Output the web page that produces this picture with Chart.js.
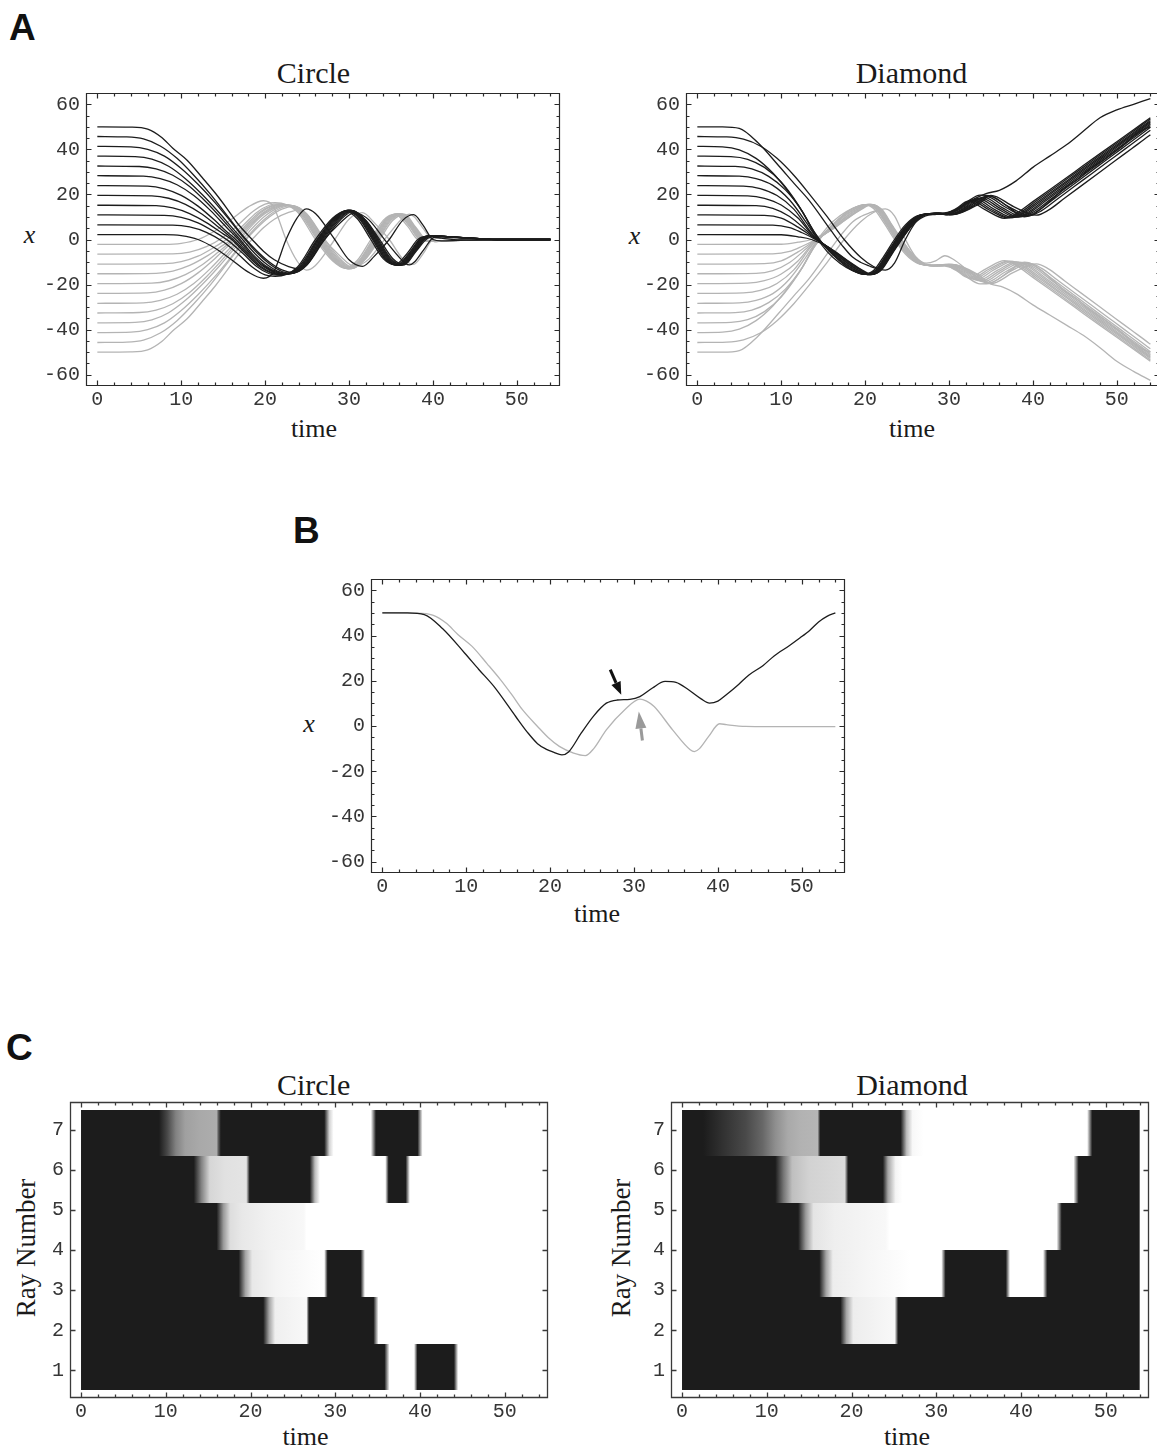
<!DOCTYPE html>
<html><head><meta charset="utf-8"><title>Circle vs Diamond ray trajectories</title>
<script src="https://cdn.jsdelivr.net/npm/chart.js@4.4.1/dist/chart.umd.min.js"></script>
<style>
html,body{margin:0;padding:0;background:#fff;width:1157px;height:1452px;overflow:hidden}
body{position:relative}
canvas{position:absolute}
.t{position:absolute;font-family:"Liberation Serif","Times New Roman",serif;color:#1a1a1a;line-height:1;white-space:nowrap}
.c{transform:translateX(-50%)}
.i{font-style:italic}
.p{position:absolute;font-family:"Liberation Sans",Arial,sans-serif;font-weight:bold;line-height:1;color:#111;font-size:37px}
</style></head><body>
<div class="p" style="left:9px;top:9px">A</div>
<div class="p" style="left:293px;top:512px">B</div>
<div class="p" style="left:6px;top:1029px">C</div>
<div class="t c" style="left:313.5px;top:58px;font-size:30px">Circle</div>
<div class="t c" style="left:911.5px;top:58px;font-size:30px">Diamond</div>
<div class="t c" style="left:314px;top:416px;font-size:26px">time</div>
<div class="t c" style="left:912px;top:416px;font-size:26px">time</div>
<div class="t c i" style="left:29.6px;top:222px;font-size:26px">x</div>
<div class="t c i" style="left:634.5px;top:223px;font-size:26px">x</div>
<div class="t c i" style="left:309px;top:711px;font-size:26px">x</div>
<div class="t c" style="left:597px;top:901px;font-size:26px">time</div>
<div class="t c" style="left:313.6px;top:1070px;font-size:30px">Circle</div>
<div class="t c" style="left:912px;top:1070px;font-size:30px">Diamond</div>
<div class="t c" style="left:305.5px;top:1424px;font-size:26px">time</div>
<div class="t c" style="left:907px;top:1424px;font-size:26px">time</div>
<div class="t" style="left:26px;top:1248px;font-size:27px;transform:translate(-50%,-50%) rotate(-90deg)">Ray Number</div>
<div class="t" style="left:621px;top:1248px;font-size:27px;transform:translate(-50%,-50%) rotate(-90deg)">Ray Number</div>
<script>
// ---------- tick values ----------
const xMajorTicks = [0,10,20,30,40,50];
const xMinorTicks = [2,4,6,8,12,14,16,18,22,24,26,28,32,34,36,38,42,44,46,48,52,54];
const yMajorTicks = [-60,-40,-20,0,20,40,60];
const yMinorTicks = [-55,-50,-45,-35,-30,-25,-15,-10,-5,5,10,15,25,30,35,45,50,55];
const rayTicks = [1,2,3,4,5,6,7];

// ---------- Panel A, Circle: black rays (start > 0) ----------
const cb1 = [[0,50],[4,49.9],[6,49],[7.6,45.5],[9,40.5],[10.7,35.2],[12.5,27.5],[14.1,20.4],[15.5,13.5],[16.7,7.2],[18.5,-0.2],[19.8,-5.2],[21.1,-9],[22.8,-12],[24.2,-13.1],[25.2,-10],[26.7,-1.7],[28.9,7.2],[30.7,11.9],[31.5,11],[32.4,8.6],[34.6,-1.7],[36.7,-10.5],[37.2,-11.3],[37.8,-10],[38.9,-4.6],[40.2,1],[41,0.6],[43.3,-0.2],[46,-0.3],[54,-0.3]];
const cb2 = [[0,45.7],[3.5,45.5],[5.5,44.6],[7.5,41.5],[9.5,36],[11.5,28.5],[13.5,20],[15.5,10.5],[17.5,1],[19,-5],[20.5,-10],[22,-13.5],[23.4,-14.7],[25,-11.2],[27,-0.5],[29,8.8],[30.5,12.5],[32,8.6],[33.7,-0.3],[35.2,-8.4],[36.6,-11.2],[38,-5.2],[39.3,0.3],[40.3,1.5],[42,1.2],[44,0.7],[46,0.3],[48,0],[54,0]];
const cb3 = [[0,41.3],[4,41.1],[6,40],[8,37],[10,31.5],[12,24.5],[14,16.5],[16,7.5],[17.4,1],[19,-5.8],[20.5,-10.8],[22,-14.2],[23.2,-15],[24.9,-11.6],[26.9,-0.2],[28.9,9.2],[30.4,12.8],[31.9,8.8],[33.5,0],[35,-8.5],[36.4,-11.3],[37.9,-5.3],[39.1,0.3],[40.1,1.6],[42,1.2],[44,0.7],[46,0.3],[48,0],[54,0]];
const cb4 = [[0,37],[4.5,36.8],[6.5,35.7],[8.5,32.5],[10.5,27],[12.5,20],[14.5,12],[16,5.5],[17.2,0.5],[18.8,-6.3],[20.3,-11.3],[21.8,-14.5],[23,-15.1],[24.7,-11.8],[26.8,0],[28.8,9.4],[30.3,12.9],[31.8,9],[33.4,0],[34.9,-8.6],[36.3,-11.4],[37.8,-5.5],[39,0.2],[40,1.7],[42,1.2],[44,0.7],[46,0.3],[48,0],[54,0]];
const cb5 = [[0,32.6],[5,32.4],[7,31.3],[9,28.5],[11,23.5],[13,16.5],[15,8.5],[16.9,0.5],[18.5,-6.5],[20,-11.5],[21.6,-14.6],[22.8,-15.2],[24.6,-12],[26.7,0],[28.7,9.6],[30.2,12.9],[31.7,9.2],[33.3,0],[34.8,-8.7],[36.2,-11.4],[37.7,-5.6],[38.9,0.2],[39.9,1.7],[42,1.2],[44,0.7],[46,0.3],[48,0],[54,0]];
const cb6 = [[0,28.3],[5.5,28.1],[7.5,27],[9.5,24.3],[11.5,19.5],[13.5,12.8],[15.5,5],[16.7,0.5],[18.3,-6.5],[19.9,-11.8],[21.4,-14.7],[22.6,-15.3],[24.5,-12],[26.6,0],[28.6,9.7],[30.1,13],[31.6,9.3],[33.2,0],[34.7,-8.8],[36.1,-11.5],[37.6,-5.7],[38.8,0.1],[39.8,1.7],[42,1.2],[44,0.7],[46,0.3],[48,0],[54,0]];
const cb7 = [[0,23.9],[6,23.7],[8,22.5],[10,19.6],[12,14.8],[14,8.5],[15.5,3.2],[16.5,0],[18,-6],[19.7,-11.8],[21.2,-14.8],[22.4,-15.4],[24.4,-12],[26.5,0],[28.5,9.7],[30,13],[31.5,9.4],[33.1,0],[34.6,-8.9],[36,-11.5],[37.5,-5.8],[38.7,0.1],[39.7,1.7],[42,1.2],[44,0.7],[46,0.3],[48,0],[54,0]];
const cb8 = [[0,19.6],[6.5,19.4],[8.5,18.3],[10.5,15.6],[12.5,11.2],[14.5,5.3],[16.2,0],[17.8,-6],[19.5,-12],[21,-15],[22.2,-15.5],[24.3,-12],[26.4,0],[28.4,9.7],[29.9,13],[31.4,9.4],[33,0],[34.5,-8.9],[35.9,-11.5],[37.4,-5.8],[38.6,0.1],[39.6,1.7],[42,1.2],[44,0.7],[46,0.3],[48,0],[54,0]];
const cb9 = [[0,15.2],[7,15],[9,14],[11,11.5],[13,7.5],[15,2.5],[16,0],[17.6,-6],[19.3,-12],[20.8,-15],[22,-15.6],[24.2,-12],[26.3,0],[28.3,9.6],[29.8,12.9],[31.3,9.4],[32.9,0],[34.4,-8.9],[35.8,-11.4],[37.3,-5.8],[38.5,0.1],[39.5,1.6],[42,1.2],[44,0.7],[46,0.3],[48,0],[54,0]];
const cb10 = [[0,10.9],[8,10.7],[10,9.8],[12,7.4],[14,3.3],[15.6,-0.5],[17.3,-6],[19,-12],[20.5,-15.2],[21.7,-15.8],[24,-12.2],[26.2,0],[28.2,9.5],[29.7,12.8],[31.2,9.3],[32.8,0],[34.3,-8.8],[35.7,-11.3],[37.2,-5.8],[38.4,0],[39.4,1.5],[42,1.1],[44,0.6],[46,0.2],[48,0],[54,0]];
const cb11 = [[0,6.5],[9,6.4],[11,5.6],[13,3.2],[15,-1],[16.8,-6.5],[18.5,-12.3],[20,-15.7],[21.2,-16.3],[23.8,-12.4],[26,0],[28,9.3],[29.5,12.6],[31,9.2],[32.6,0],[34.1,-8.6],[35.5,-11.2],[37,-5.8],[38.2,0],[39.2,1.4],[42,1.1],[44,0.6],[46,0.2],[48,0],[54,0]];
const cb12 = [[0,2.2],[8,2.15],[10,1.7],[12,0],[14,-3.8],[16,-9],[18,-14.5],[19.8,-17.2],[21,-14.5],[22.5,0],[23.8,9.5],[24.9,13.6],[26,11.5],[28.3,0],[30,-9],[31.6,-11.9],[33,-7.5],[34.8,0],[36.4,8.5],[37.7,11],[38.8,6.5],[40,0],[41,-0.6],[43,-0.4],[46,-0.1],[48,0],[54,0]];

// ---------- Panel A, Circle: gray rays (start < 0) ----------
const cg1 = [[0,-50],[4,-49.9],[6,-49],[7.6,-45.5],[9,-40.5],[10.7,-35.2],[12.5,-27.5],[14.1,-20.4],[15.5,-13.5],[16.7,-7.2],[18.5,0.2],[19.8,5.2],[21.1,9],[22.8,12],[24.2,13.1],[25.2,10],[26.7,1.7],[28.9,-7.2],[30.7,-11.9],[31.5,-11],[32.4,-8.6],[34.6,1.7],[36.7,10.5],[37.2,11.3],[37.8,10],[38.9,4.6],[40.2,-1],[41,-0.6],[43.3,0.2],[46,0.3],[54,0.3]];
const cg2 = [[0,-45.7],[3.5,-45.5],[5.5,-44.6],[7.5,-41.5],[9.5,-36],[11.5,-28.5],[13.5,-20],[15.5,-10.5],[17.5,-1],[19,5],[20.5,10],[22,13.5],[23.4,14.7],[25,11.2],[27,0.5],[29,-8.8],[30.5,-12.5],[32,-8.6],[33.7,0.3],[35.2,8.4],[36.6,11.2],[38,5.2],[39.3,-0.3],[40.3,-0.6],[42,-0.5],[44,-0.3],[46,-0.1],[48,0],[54,0]];
const cg3 = [[0,-41.3],[4,-41.1],[6,-40],[8,-37],[10,-31.5],[12,-24.5],[14,-16.5],[16,-7.5],[17.4,-1],[19,5.8],[20.5,10.8],[22,14.2],[23.2,15],[24.9,11.6],[26.9,0.2],[28.9,-9.2],[30.4,-12.8],[31.9,-8.8],[33.5,0],[35,8.5],[36.4,11.3],[37.9,5.3],[39.1,-0.3],[40.1,-0.7],[42,-0.5],[44,-0.3],[46,-0.1],[48,0],[54,0]];
const cg4 = [[0,-37],[4.5,-36.8],[6.5,-35.7],[8.5,-32.5],[10.5,-27],[12.5,-20],[14.5,-12],[16,-5.5],[17.2,-0.5],[18.8,6.3],[20.3,11.3],[21.8,14.5],[23,15.1],[24.7,11.8],[26.8,0],[28.8,-9.4],[30.3,-12.9],[31.8,-9],[33.4,0],[34.9,8.6],[36.3,11.4],[37.8,5.5],[39,-0.2],[40,-0.7],[42,-0.5],[44,-0.3],[46,-0.1],[48,0],[54,0]];
const cg5 = [[0,-32.6],[5,-32.4],[7,-31.3],[9,-28.5],[11,-23.5],[13,-16.5],[15,-8.5],[16.9,-0.5],[18.5,6.5],[20,11.5],[21.6,14.6],[22.8,15.2],[24.6,12],[26.7,0],[28.7,-9.6],[30.2,-12.9],[31.7,-9.2],[33.3,0],[34.8,8.7],[36.2,11.4],[37.7,5.6],[38.9,-0.2],[39.9,-0.7],[42,-0.5],[44,-0.3],[46,-0.1],[48,0],[54,0]];
const cg6 = [[0,-28.3],[5.5,-28.1],[7.5,-27],[9.5,-24.3],[11.5,-19.5],[13.5,-12.8],[15.5,-5],[16.7,-0.5],[18.3,6.5],[19.9,11.8],[21.4,14.7],[22.6,15.3],[24.5,12],[26.6,0],[28.6,-9.7],[30.1,-13],[31.6,-9.3],[33.2,0],[34.7,8.8],[36.1,11.5],[37.6,5.7],[38.8,-0.1],[39.8,-0.7],[42,-0.5],[44,-0.3],[46,-0.1],[48,0],[54,0]];
const cg7 = [[0,-23.9],[6,-23.7],[8,-22.5],[10,-19.6],[12,-14.8],[14,-8.5],[15.5,-3.2],[16.5,0],[18,6],[19.7,11.8],[21.2,14.8],[22.4,15.4],[24.4,12],[26.5,0],[28.5,-9.7],[30,-13],[31.5,-9.4],[33.1,0],[34.6,8.9],[36,11.5],[37.5,5.8],[38.7,-0.1],[39.7,-0.7],[42,-0.5],[44,-0.3],[46,-0.1],[48,0],[54,0]];
const cg8 = [[0,-19.6],[6.5,-19.4],[8.5,-18.3],[10.5,-15.6],[12.5,-11.2],[14.5,-5.3],[16.2,0],[17.8,6],[19.5,12],[21,15],[22.2,15.5],[24.3,12],[26.4,0],[28.4,-9.7],[29.9,-13],[31.4,-9.4],[33,0],[34.5,8.9],[35.9,11.5],[37.4,5.8],[38.6,-0.1],[39.6,-0.7],[42,-0.5],[44,-0.3],[46,-0.1],[48,0],[54,0]];
const cg9 = [[0,-15.2],[7,-15],[9,-14],[11,-11.5],[13,-7.5],[15,-2.5],[16,0],[17.6,6],[19.3,12],[20.8,15],[22,15.6],[24.2,12],[26.3,0],[28.3,-9.6],[29.8,-12.9],[31.3,-9.4],[32.9,0],[34.4,8.9],[35.8,11.4],[37.3,5.8],[38.5,-0.1],[39.5,-0.6],[42,-0.5],[44,-0.3],[46,-0.1],[48,0],[54,0]];
const cg10 = [[0,-10.9],[8,-10.7],[10,-9.8],[12,-7.4],[14,-3.3],[15.6,0.5],[17.3,6],[19,12],[20.5,15.2],[21.7,15.8],[24,12.2],[26.2,0],[28.2,-9.5],[29.7,-12.8],[31.2,-9.3],[32.8,0],[34.3,8.8],[35.7,11.3],[37.2,5.8],[38.4,0],[39.4,-0.6],[42,-0.5],[44,-0.3],[46,-0.1],[48,0],[54,0]];
const cg11 = [[0,-6.5],[9,-6.4],[11,-5.6],[13,-3.2],[15,1],[16.8,6.5],[18.5,12.3],[20,15.7],[21.2,16.3],[23.8,12.4],[26,0],[28,-9.3],[29.5,-12.6],[31,-9.2],[32.6,0],[34.1,8.6],[35.5,11.2],[37,5.8],[38.2,0],[39.2,-0.6],[42,-0.5],[44,-0.3],[46,-0.1],[48,0],[54,0]];
const cg12 = [[0,-2.2],[8,-2.15],[10,-1.7],[12,0],[14,3.8],[16,9],[18,14.5],[19.8,17.2],[21,14.5],[22.5,0],[23.8,-9.5],[24.9,-13.6],[26,-11.5],[28.3,0],[30,9],[31.6,11.9],[33,7.5],[34.8,0],[36.4,-8.5],[37.7,-11],[38.8,-6.5],[40,0],[41,0.6],[43,0.4],[46,0.1],[48,0],[54,0]];

// ---------- Panel A, Diamond: black rays ----------
const db1 = [[0,50],[3,50],[5,49.3],[7.2,43],[9.8,32.3],[11.5,25],[13.3,17.5],[15.9,4.2],[17.3,-2.8],[18.5,-7.8],[19.5,-10.2],[20.4,-11.6],[21.4,-12.8],[22.2,-11.5],[23.7,-3.2],[25.2,4.5],[26.7,10.1],[28,11.5],[29.5,11.8],[30.7,13],[32.2,16.8],[33.7,19.7],[35,19.3],[36.5,16],[38,12],[39,10.1],[40,11],[41,13.8],[42.5,18.5],[43.7,22.6],[45.4,26.8],[46.7,31],[48.5,35.5],[49.8,39],[51,42.5],[52,46],[53,48.5],[54,50]];
const db2 = [[0,45.7],[3.5,45.5],[5.5,44.5],[7.5,41.5],[9.5,36],[11.5,28.5],[13.5,19.5],[15.5,10],[17.5,0],[19.5,-8],[21,-12],[22.4,-13.6],[23.5,-10.5],[24.8,0],[26,7.5],[27.2,10.5],[28.5,11.2],[30,12],[31.5,14.5],[33,18],[34.5,20.5],[36,21.8],[38,26],[40,32],[42,37],[44,42],[46,48],[48,54],[50,57.5],[52,60],[54,62.5]];
const db3 = [[0,41.3],[3,41.1],[5,39.8],[7,36],[9,29.5],[11,20.5],[12.5,12.5],[14.2,1],[15.5,-5.5],[17,-10.5],[18.5,-13.8],[19.8,-15.4],[21,-13.8],[22.3,-7],[23.5,0],[24.8,6.5],[26.2,10.5],[27.8,11.4],[29.3,11.3],[30.8,13.6],[32.3,17],[34.45,12.9],[36.6,9.4],[38,11.5],[40,16.8],[42,22.1],[44,27.4],[46,32.8],[48,38.1],[50,43.4],[52,48.7],[54,54]];
const db4 = [[0,37],[4,36.8],[6,35.6],[8,32],[10,25.5],[12,15.5],[14,3],[15.3,-3.5],[16.8,-9],[18.4,-13.5],[20,-15.5],[21.2,-13.8],[22.5,-6.8],[23.7,0.2],[25,6.7],[26.4,10.6],[28,11.4],[29.5,11.2],[31.1,13.8],[32.6,17.3],[34.8,13.1],[37,9.6],[38.4,11.7],[40.4,17.1],[42.4,22.4],[44.4,27.8],[46.4,33.1],[48.4,38.5],[50.4,43.8],[52.4,49.2],[54,53.5]];
const db5 = [[0,32.6],[4.5,32.4],[6.5,31.3],[8.5,28],[10.5,22],[12.5,12.5],[13.9,3.5],[15.2,-3],[16.8,-8.8],[18.4,-13.4],[20.1,-15.5],[21.3,-13.7],[22.6,-6.6],[23.8,0.3],[25.1,6.8],[26.5,10.7],[28.1,11.5],[29.6,11.1],[31.4,14],[32.9,17.6],[35.1,13.2],[37.3,9.6],[38.7,11.7],[40.7,17.1],[42.7,22.4],[44.7,27.8],[46.7,33.2],[48.7,38.6],[50.7,43.9],[52.7,49.3],[54,52.8]];
const db6 = [[0,28.3],[5,28.1],[7,27],[9,24],[11,17.5],[13,7.5],[13.8,3],[15.2,-3],[16.9,-8.8],[18.6,-13.3],[20.2,-15.5],[21.4,-13.6],[22.7,-6.5],[23.9,0.4],[25.2,6.9],[26.6,10.8],[28.2,11.5],[29.8,11.1],[31.7,14.3],[33.2,17.9],[35.4,13.4],[37.6,9.7],[39,11.8],[41,17.2],[43,22.6],[45,28],[47,33.4],[49,38.8],[51,44.2],[53,49.6],[54,52.3]];
const db7 = [[0,23.9],[5.5,23.7],[7.5,22.6],[9.5,19.5],[11.5,13.5],[13.7,2.5],[15.3,-3],[17,-8.7],[18.7,-13.2],[20.3,-15.6],[21.5,-13.6],[22.8,-6.4],[24,0.4],[25.3,6.9],[26.7,10.8],[28.3,11.6],[29.9,11],[32,14.5],[33.5,18.2],[35.8,13.6],[38,9.9],[39.4,12],[41.4,17.5],[43.4,22.9],[45.4,28.4],[47.4,33.8],[49.4,39.3],[51.4,44.7],[53.4,50.2],[54,51.8]];
const db8 = [[0,19.6],[6,19.4],[8,18.3],[10,15.3],[12,9.5],[13.6,2.5],[15.4,-3.1],[17.2,-8.7],[18.9,-13.2],[20.4,-15.6],[21.6,-13.5],[22.9,-6.3],[24.1,0.5],[25.4,7],[26.8,10.9],[28.4,11.6],[30,11],[32.3,14.8],[33.8,18.5],[36.1,13.8],[38.3,10],[39.7,12.1],[41.7,17.6],[43.7,23],[45.7,28.5],[47.7,34],[49.7,39.4],[51.7,44.9],[53.7,50.4],[54,51.2]];
const db9 = [[0,15.2],[7,15],[9,13.8],[11,10.2],[13,4],[13.6,2],[15.5,-3.2],[17.3,-8.7],[19,-13.1],[20.5,-15.6],[21.7,-13.5],[23,-6.2],[24.2,0.5],[25.5,7],[26.9,10.9],[28.5,11.6],[30.1,11],[32.6,15],[34.1,18.8],[36.4,14],[38.7,10.2],[40.1,12.3],[42.1,17.8],[44.1,23.3],[46.1,28.8],[48.1,34.3],[50.1,39.9],[52.1,45.4],[54,50.6]];
const db10 = [[0,10.9],[8,10.7],[10,9.5],[12,5.5],[13.6,1.5],[15.6,-3.4],[17.5,-8.7],[19.2,-13.1],[20.6,-15.6],[21.8,-13.4],[23.1,-6.1],[24.3,0.6],[25.6,7.1],[27,11],[28.6,11.7],[30.2,11],[32.9,15.2],[34.4,19.1],[36.8,14.2],[39.1,10.4],[40.5,12.5],[42.5,18],[44.5,23.5],[46.5,29.1],[48.5,34.6],[50.5,40.1],[52.5,45.6],[54,49.8]];
const db11 = [[0,6.5],[9,6.4],[11,5.3],[12.5,3],[13.6,1],[15.7,-3.6],[17.6,-8.7],[19.3,-13],[20.7,-15.6],[21.9,-13.4],[23.2,-6],[24.4,0.6],[25.7,7.1],[27.1,11],[28.7,11.7],[30.3,11],[33.2,15.4],[34.7,19.4],[37.2,14.4],[39.6,10.6],[41,12.7],[43,18.2],[45,23.7],[47,29.2],[49,34.7],[51,40.2],[53,45.7],[54,48.5]];
const db12 = [[0,2.2],[10,2.1],[12,1.2],[13.6,0],[15.8,-3.8],[17.7,-8.8],[19.4,-13],[20.8,-15.5],[22,-13.3],[23.3,-5.9],[24.5,0.7],[25.8,7.2],[27.2,11.1],[28.8,11.8],[30.4,11],[33.5,15.6],[35,19.6],[37.7,14.6],[40.4,10.8],[41.8,12.9],[43.8,18.4],[45.8,23.9],[47.8,29.4],[49.8,34.9],[51.8,40.4],[53.8,45.9],[54,46.5]];

// ---------- Panel A, Diamond: gray rays ----------
const dg1 = [[0,-50],[3,-50],[5,-49.3],[7.2,-43],[9.8,-32.3],[11.5,-25],[13.3,-17.5],[15.9,-4.2],[17.3,2.8],[18.5,7.8],[19.5,10.2],[20.4,11.6],[21.4,12.8],[22.2,11.5],[23.7,3.2],[25.2,-4.5],[26.7,-10.1],[28,-11.5],[29.5,-11.8],[30.7,-13],[32.2,-16.8],[33.7,-19.7],[35,-19.3],[36.5,-16],[38,-12],[39,-10.1],[40,-11],[41,-13.8],[42.5,-18.5],[43.7,-22.6],[45.4,-26.8],[46.7,-31],[48.5,-35.5],[49.8,-39],[51,-42.5],[52,-46],[53,-48.5],[54,-50]];
const dg2 = [[0,-45.7],[3.5,-45.5],[5.5,-44.5],[7.5,-41.5],[9.5,-36],[11.5,-28.5],[13.5,-19.5],[15.5,-10],[17.5,0],[19.5,8],[21,12],[22.4,13.6],[23.5,10.5],[24.8,0],[26,-7.5],[27.3,-10.5],[28.4,-9.5],[29.5,-7.2],[30.6,-9],[32,-13],[33.5,-17],[35,-19.8],[36.5,-21.2],[38,-24],[40,-29],[42,-33.5],[44,-38],[46,-42.5],[48,-48],[50,-54],[52,-58.5],[54,-62.5]];
const dg3 = [[0,-41.3],[3,-41.1],[5,-39.8],[7,-36],[9,-29.5],[11,-20.5],[12.5,-12.5],[14.2,-1],[15.5,5.5],[17,10.5],[18.5,13.8],[19.8,15.4],[21,13.8],[22.3,7],[23.5,0],[24.8,-6.5],[26.2,-10.5],[27.8,-11.4],[29.3,-11.3],[30.8,-13.6],[32.3,-17],[34.45,-12.9],[36.6,-9.4],[38,-11.5],[40,-16.8],[42,-22.1],[44,-27.4],[46,-32.8],[48,-38.1],[50,-43.4],[52,-48.7],[54,-54]];
const dg4 = [[0,-37],[4,-36.8],[6,-35.6],[8,-32],[10,-25.5],[12,-15.5],[14,-3],[15.3,3.5],[16.8,9],[18.4,13.5],[20,15.5],[21.2,13.8],[22.5,6.8],[23.7,-0.2],[25,-6.7],[26.4,-10.6],[28,-11.4],[29.5,-11.2],[31.1,-13.8],[32.6,-17.3],[34.8,-13.1],[37,-9.6],[38.4,-11.7],[40.4,-17.1],[42.4,-22.4],[44.4,-27.8],[46.4,-33.1],[48.4,-38.5],[50.4,-43.8],[52.4,-49.2],[54,-53.5]];
const dg5 = [[0,-32.6],[4.5,-32.4],[6.5,-31.3],[8.5,-28],[10.5,-22],[12.5,-12.5],[13.9,-3.5],[15.2,3],[16.8,8.8],[18.4,13.4],[20.1,15.5],[21.3,13.7],[22.6,6.6],[23.8,-0.3],[25.1,-6.8],[26.5,-10.7],[28.1,-11.5],[29.6,-11.1],[31.4,-14],[32.9,-17.6],[35.1,-13.2],[37.3,-9.6],[38.7,-11.7],[40.7,-17.1],[42.7,-22.4],[44.7,-27.8],[46.7,-33.2],[48.7,-38.6],[50.7,-43.9],[52.7,-49.3],[54,-52.8]];
const dg6 = [[0,-28.3],[5,-28.1],[7,-27],[9,-24],[11,-17.5],[13,-7.5],[13.8,-3],[15.2,3],[16.9,8.8],[18.6,13.3],[20.2,15.5],[21.4,13.6],[22.7,6.5],[23.9,-0.4],[25.2,-6.9],[26.6,-10.8],[28.2,-11.5],[29.8,-11.1],[31.7,-14.3],[33.2,-17.9],[35.4,-13.4],[37.6,-9.7],[39,-11.8],[41,-17.2],[43,-22.6],[45,-28],[47,-33.4],[49,-38.8],[51,-44.2],[53,-49.6],[54,-52.3]];
const dg7 = [[0,-23.9],[5.5,-23.7],[7.5,-22.6],[9.5,-19.5],[11.5,-13.5],[13.7,-2.5],[15.3,3],[17,8.7],[18.7,13.2],[20.3,15.6],[21.5,13.6],[22.8,6.4],[24,-0.4],[25.3,-6.9],[26.7,-10.8],[28.3,-11.6],[29.9,-11],[32,-14.5],[33.5,-18.2],[35.8,-13.6],[38,-9.9],[39.4,-12],[41.4,-17.5],[43.4,-22.9],[45.4,-28.4],[47.4,-33.8],[49.4,-39.3],[51.4,-44.7],[53.4,-50.2],[54,-51.8]];
const dg8 = [[0,-19.6],[6,-19.4],[8,-18.3],[10,-15.3],[12,-9.5],[13.6,-2.5],[15.4,3.1],[17.2,8.7],[18.9,13.2],[20.4,15.6],[21.6,13.5],[22.9,6.3],[24.1,-0.5],[25.4,-7],[26.8,-10.9],[28.4,-11.6],[30,-11],[32.3,-14.8],[33.8,-18.5],[36.1,-13.8],[38.3,-10],[39.7,-12.1],[41.7,-17.6],[43.7,-23],[45.7,-28.5],[47.7,-34],[49.7,-39.4],[51.7,-44.9],[53.7,-50.4],[54,-51.2]];
const dg9 = [[0,-15.2],[7,-15],[9,-13.8],[11,-10.2],[13,-4],[13.6,-2],[15.5,3.2],[17.3,8.7],[19,13.1],[20.5,15.6],[21.7,13.5],[23,6.2],[24.2,-0.5],[25.5,-7],[26.9,-10.9],[28.5,-11.6],[30.1,-11],[32.6,-15],[34.1,-18.8],[36.4,-14],[38.7,-10.2],[40.1,-12.3],[42.1,-17.8],[44.1,-23.3],[46.1,-28.8],[48.1,-34.3],[50.1,-39.9],[52.1,-45.4],[54,-50.6]];
const dg10 = [[0,-10.9],[8,-10.7],[10,-9.5],[12,-5.5],[13.6,-1.5],[15.6,3.4],[17.5,8.7],[19.2,13.1],[20.6,15.6],[21.8,13.4],[23.1,6.1],[24.3,-0.6],[25.6,-7.1],[27,-11],[28.6,-11.7],[30.2,-11],[32.9,-15.2],[34.4,-19.1],[36.8,-14.2],[39.1,-10.4],[40.5,-12.5],[42.5,-18],[44.5,-23.5],[46.5,-29.1],[48.5,-34.6],[50.5,-40.1],[52.5,-45.6],[54,-49.8]];
const dg11 = [[0,-6.5],[9,-6.4],[11,-5.3],[12.5,-3],[13.6,-1],[15.7,3.6],[17.6,8.7],[19.3,13],[20.7,15.6],[21.9,13.4],[23.2,6],[24.4,-0.6],[25.7,-7.1],[27.1,-11],[28.7,-11.7],[30.3,-11],[33.2,-15.4],[34.7,-19.4],[37.2,-14.4],[39.6,-10.6],[41,-12.7],[43,-18.2],[45,-23.7],[47,-29.2],[49,-34.7],[51,-40.2],[53,-45.7],[54,-48.5]];
const dg12 = [[0,-2.2],[10,-2.1],[12,-1.2],[13.6,0],[15.8,3.8],[17.7,8.8],[19.4,13],[20.8,15.5],[22,13.3],[23.3,5.9],[24.5,-0.7],[25.8,-7.2],[27.2,-11.1],[28.8,-11.8],[30.4,-11],[33.5,-15.6],[35,-19.6],[37.7,-14.6],[40.4,-10.8],[41.8,-12.9],[43.8,-18.4],[45.8,-23.9],[47.8,-29.4],[49.8,-34.9],[51.8,-40.4],[53.8,-45.9],[54,-46.5]];

// ---------- Panel B: ray from x=50 (black = Diamond, gray = Circle) ----------
const bDiamondRay = db1;
const bCircleRay = cb1;
const bArrowBlack = [[27.17,24.9],[28.48,13.8]];   // tail, tip
const bArrowGray = [[31.0,-6.4],[30.57,6.4]];      // tail, tip

// ---------- Panel C: density bands (gray level 0 = black, 1 = white over time) ----------
const bandEdges = [0.5, 1.6667, 2.8333, 4, 5.1667, 6.3333, 7.5];
const cBand1 = [[0,0],[35.8,0],[36.4,1],[39.3,1],[39.7,0],[44,0],[44.5,1],[54,1]];
const cBand2 = [[0,0],[21.5,0],[22.2,0.6],[22.9,0.93],[26.6,0.97],[26.9,0],[34.5,0],[35.1,1],[54,1]];
const cBand3 = [[0,0],[18.6,0],[19.4,0.6],[20.2,0.9],[23,0.95],[26,0.98],[28.7,1],[29.1,0],[33,0],[33.5,1],[54,1]];
const cBand4 = [[0,0],[16,0],[16.8,0.55],[17.6,0.85],[19,0.9],[22,0.94],[26.3,0.97],[26.6,1],[54,1]];
const cBand5 = [[0,0],[13.3,0],[14.2,0.45],[15.2,0.82],[17,0.87],[19.5,0.88],[19.9,0],[27,0],[27.6,0.7],[28.2,1],[35.9,1],[36.3,0],[38.3,0],[38.8,1],[54,1]];
const cBand6 = [[0,0],[9.2,0],[10.2,0.2],[11.2,0.45],[12.3,0.58],[14,0.62],[16,0.64],[16.2,0.3],[16.5,0],[28.7,0],[29.3,0.8],[29.8,1],[34.2,1],[34.8,0],[39.7,0],[40.3,1],[54,1]];
const dBand1 = [[0,0],[54,0]];
const dBand2 = [[0,0],[18.7,0],[19.4,0.6],[20.2,0.92],[24,0.96],[25.1,0.97],[25.5,0],[54,0]];
const dBand3 = [[0,0],[16.2,0],[17,0.6],[17.8,0.92],[22,0.96],[27,1],[30.6,1],[31.1,0],[38.2,0],[38.7,1],[42.6,1],[43.1,0],[54,0]];
const dBand4 = [[0,0],[13.7,0],[14.6,0.55],[15.5,0.88],[18,0.93],[24,0.97],[24.5,1],[44.2,1],[44.8,0],[54,0]];
const dBand5 = [[0,0],[11,0],[12,0.4],[13,0.72],[15,0.8],[19.2,0.84],[19.6,0],[23.7,0],[24.3,0.6],[25.2,0.95],[26,1],[46.2,1],[46.8,0],[54,0]];
const dBand6 = [[0,0],[2.5,0],[5,0.1],[7.5,0.2],[9.5,0.33],[11,0.5],[12.5,0.62],[14,0.66],[16,0.68],[16.3,0],[25.8,0],[26.5,0.7],[27.2,0.97],[28.5,1],[47.8,1],[48.4,0],[54,0]];

// ---------- rendering ----------
const BLACK = '#1c1c1c', GRAY = '#b4b4b4';
const tickFont = {family:'"Liberation Mono","Courier New",monospace', size:20};
const toXY = a => a.map(p => ({x:p[0], y:p[1]}));
const lineDs = (a, color) => ({data:toXY(a), borderColor:color, borderWidth:1.3, pointRadius:0, pointHoverRadius:0,
  cubicInterpolationMode:'monotone', fill:false});
const shade = v => { const c = Math.round(28 + 227*v); return `rgb(${c},${c},${c})`; };

function framePlugin(f) {
  return {id:'frame', afterDraw(chart) {
    const {ctx, chartArea:a, scales:{x, y}} = chart;
    const L = Math.round(a.left)+0.5, R = Math.round(a.right)-0.5, T = Math.round(a.top)+0.5, B = Math.round(a.bottom)-0.5;
    ctx.save();
    ctx.strokeStyle = f.color; ctx.lineWidth = f.width;
    ctx.beginPath();
    ctx.rect(L, T, R-L, B-T);
    const xt = (vals, len) => vals.forEach(v => { const p = Math.round(x.getPixelForValue(v))+0.5;
      ctx.moveTo(p, B); ctx.lineTo(p, B-len); ctx.moveTo(p, T); ctx.lineTo(p, T+len); });
    const yt = (vals, len) => vals.forEach(v => { const p = Math.round(y.getPixelForValue(v))+0.5;
      ctx.moveTo(L, p); ctx.lineTo(L+len, p); ctx.moveTo(R, p); ctx.lineTo(R-len, p); });
    xt(f.xMajor, 5); xt(f.xMinor, 3); yt(f.yMajor, 5); yt(f.yMinor, 3);
    ctx.stroke();
    ctx.restore();
  }};
}

const heatPlugin = {id:'heat', beforeDatasetsDraw(chart) {
  const {ctx, scales:{x, y}} = chart;
  ctx.save();
  chart.data.datasets.forEach(ds => {
    if (!ds.stops) return;
    const st = ds.stops;
    const x0 = x.getPixelForValue(st[0][0]), x1 = x.getPixelForValue(st[st.length-1][0]);
    const yT = Math.round(y.getPixelForValue(ds.yHigh)), yB = Math.round(y.getPixelForValue(ds.yLow));
    const g = ctx.createLinearGradient(x0, 0, x1, 0);
    st.forEach(([t, v]) => g.addColorStop(Math.min(1, Math.max(0, (x.getPixelForValue(t)-x0)/(x1-x0))), shade(v)));
    ctx.fillStyle = g;
    ctx.fillRect(x0, yT, x1-x0, yB-yT);
  });
  ctx.restore();
}};

function arrowPlugin(arrows) {
  return {id:'arrows', afterDatasetsDraw(chart) {
    const {ctx, scales:{x, y}} = chart;
    ctx.save();
    arrows.forEach(ar => {
      const x1 = x.getPixelForValue(ar.pts[0][0]), y1 = y.getPixelForValue(ar.pts[0][1]);
      const x2 = x.getPixelForValue(ar.pts[1][0]), y2 = y.getPixelForValue(ar.pts[1][1]);
      const ang = Math.atan2(y2-y1, x2-x1);
      const bx = x2 - ar.head*Math.cos(ang), by = y2 - ar.head*Math.sin(ang);
      ctx.strokeStyle = ar.color; ctx.fillStyle = ar.color; ctx.lineWidth = ar.shaft;
      ctx.beginPath(); ctx.moveTo(x1, y1); ctx.lineTo(bx, by); ctx.stroke();
      const nx = -Math.sin(ang)*ar.w/2, ny = Math.cos(ang)*ar.w/2;
      ctx.beginPath(); ctx.moveTo(x2, y2); ctx.lineTo(bx+nx, by+ny); ctx.lineTo(bx-nx, by-ny); ctx.closePath(); ctx.fill();
    });
    ctx.restore();
  }};
}

function makeChart(rect, area, cfg) {
  const c = document.createElement('canvas');
  c.width = rect.w; c.height = rect.h;
  Object.assign(c.style, {left:rect.x+'px', top:rect.y+'px', width:rect.w+'px', height:rect.h+'px'});
  document.body.appendChild(c);
  const yW = area.left - rect.x, xH = rect.y + rect.h - area.bottom;
  const tickCommon = {font:tickFont, color:'#363636', autoSkip:false, maxRotation:0, minRotation:0, callback:v => String(v)};
  return new Chart(c, {
    type:'line',
    data:{datasets:cfg.datasets},
    plugins:cfg.plugins,
    options:{
      responsive:false, animation:false, devicePixelRatio:1, events:[],
      layout:{padding:{left:0, top:area.top-rect.y, right:rect.x+rect.w-area.right, bottom:0}},
      plugins:{legend:{display:false}, tooltip:{enabled:false}, title:{display:false}},
      scales:{
        x:{type:'linear', min:cfg.xMin, max:cfg.xMax, grid:{display:false, drawTicks:false}, border:{display:false},
           ticks:Object.assign({padding:cfg.xPad}, tickCommon),
           afterBuildTicks:ax => { ax.ticks = cfg.xTicks.map(v => ({value:v})); },
           afterFit:ax => { ax.height = xH; ax.paddingLeft = 0; ax.paddingRight = 0; }},
        y:{type:'linear', min:cfg.yMin, max:cfg.yMax, grid:{display:false, drawTicks:false}, border:{display:false},
           ticks:Object.assign({padding:6}, tickCommon),
           afterBuildTicks:ax => { ax.ticks = cfg.yTicks.map(v => ({value:v})); },
           afterFit:ax => { ax.width = yW; ax.paddingTop = 0; ax.paddingBottom = 0; }}
      }
    }
  });
}

const frameA = {xMajor:xMajorTicks, xMinor:xMinorTicks, yMajor:yMajorTicks, yMinor:yMinorTicks, color:'#2a2a2a', width:1.2};
const frameC = {xMajor:xMajorTicks, xMinor:xMinorTicks, yMajor:rayTicks, yMinor:[], color:'#3a3a3a', width:1.3};

const circleBlack = [cb1,cb2,cb3,cb4,cb5,cb6,cb7,cb8,cb9,cb10,cb11,cb12];
const circleGray = [cg1,cg2,cg3,cg4,cg5,cg6,cg7,cg8,cg9,cg10,cg11,cg12];
const diamondBlack = [db1,db2,db3,db4,db5,db6,db7,db8,db9,db10,db11,db12];
const diamondGray = [dg1,dg2,dg3,dg4,dg5,dg6,dg7,dg8,dg9,dg10,dg11,dg12];

const lineCfg = (datasets, plugins) => ({datasets, plugins, xMin:-1.35, xMax:55.15, yMin:-65, yMax:65,
  xTicks:xMajorTicks, yTicks:yMajorTicks, xPad:2});

// A - Circle
makeChart({x:0, y:73, w:600, h:347}, {left:86, top:93, right:560, bottom:386},
  lineCfg([...circleBlack.map(a => lineDs(a, BLACK)), ...circleGray.map(a => lineDs(a, GRAY))], [framePlugin(frameA)]));
// A - Diamond
makeChart({x:600, y:73, w:600, h:347}, {left:686, top:93, right:1160, bottom:386},
  lineCfg([...diamondBlack.map(a => lineDs(a, BLACK)), ...diamondGray.map(a => lineDs(a, GRAY))], [framePlugin(frameA)]));
// B
makeChart({x:285, y:559, w:600, h:348}, {left:371, top:579, right:845, bottom:873},
  lineCfg([lineDs(bDiamondRay, BLACK), lineDs(bCircleRay, GRAY)],
    [framePlugin(frameA), arrowPlugin([
      {pts:bArrowBlack, color:'#111', shaft:3, head:13, w:10},
      {pts:bArrowGray, color:'#9a9a9a', shaft:3, head:17, w:11}])]));

// C heatmaps
const bandDs = bands => bands.map((s, i) => ({label:'band'+(i+1), data:[], stops:s, yLow:bandEdges[i], yHigh:bandEdges[i+1]}));
const heatCfg = bands => ({datasets:bandDs(bands), plugins:[heatPlugin, framePlugin(frameC)],
  xMin:-1.3, xMax:55.1, yMin:0.31, yMax:7.69, xTicks:xMajorTicks, yTicks:rayTicks, xPad:2});
makeChart({x:0, y:1082, w:600, h:350}, {left:70, top:1102, right:548, bottom:1398},
  heatCfg([cBand1,cBand2,cBand3,cBand4,cBand5,cBand6]));
makeChart({x:600, y:1082, w:600, h:350}, {left:671, top:1102, right:1149, bottom:1398},
  heatCfg([dBand1,dBand2,dBand3,dBand4,dBand5,dBand6]));
</script>
</body></html>
